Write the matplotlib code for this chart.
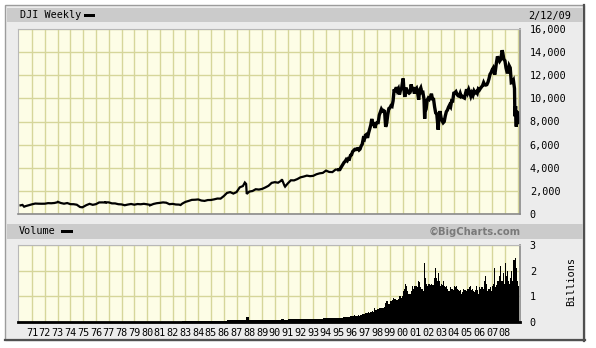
import numpy as np
import matplotlib
matplotlib.use("Agg")
import matplotlib.pyplot as plt
from matplotlib.patches import Rectangle
from matplotlib.lines import Line2D

# ---- data ----
# quarter-end closes 1970-1994 (Mar, Jun, Sep, Dec)
q_years = list(range(1970, 1995))
q_close = [785, 683, 761, 839,
           904, 891, 887, 890,
           940, 929, 953, 1020,
           951, 891, 947, 851,
           847, 802, 608, 616,
           768, 879, 794, 852,
           999, 1003, 990, 1005,
           919, 916, 847, 831,
           757, 819, 866, 805,
           862, 842, 879, 839,
           786, 868, 932, 964,
           1004, 977, 850, 875,
           823, 812, 896, 1047,
           1130, 1222, 1233, 1259,
           1165, 1133, 1207, 1212,
           1267, 1336, 1329, 1547,
           1819, 1893, 1768, 1896,
           2305, 2419, 2597, 1939,
           1989, 2142, 2113, 2169,
           2293, 2440, 2693, 2753,
           2707, 2881, 2453, 2634,
           2914, 2907, 3017, 3169,
           3236, 3319, 3272, 3301,
           3436, 3516, 3555, 3754,
           3636, 3625, 3843, 3834]

# month-end closes Jan 1995 - Jan 2009
m_close = [3844, 4011, 4158, 4321, 4465, 4556, 4709, 4611, 4789, 4756, 5075, 5117,
           5395, 5486, 5588, 5569, 5643, 5655, 5529, 5616, 5882, 6029, 6522, 6448,
           6813, 6878, 6584, 7009, 7331, 7673, 8223, 7622, 7945, 7442, 7823, 7908,
           7907, 8546, 8800, 9063, 8900, 8952, 8883, 7539, 7843, 8592, 9117, 9181,
           9359, 9307, 9786, 10789, 10560, 10971, 10655, 10829, 10337, 10730, 10878, 11497,
           10941, 10128, 10922, 10734, 10522, 10448, 10522, 11215, 10651, 10971, 10415, 10787,
           10887, 10495, 9879, 10735, 10912, 10502, 10523, 9950, 8848, 9075, 9852, 10022,
           9920, 10106, 10404, 9946, 9925, 9243, 8737, 8664, 7592, 8397, 8896, 8342,
           8054, 7891, 7992, 8480, 8850, 8985, 9234, 9416, 9275, 9801, 9782, 10454,
           10488, 10584, 10358, 10226, 10188, 10435, 10140, 10174, 10080, 10027, 10428, 10783,
           10490, 10766, 10504, 10193, 10467, 10275, 10641, 10482, 10569, 10440, 10806, 10718,
           10865, 10993, 11109, 11367, 11168, 11150, 11186, 11381, 11679, 12081, 12222, 12463,
           12622, 12269, 12354, 13063, 13628, 13409, 13212, 13358, 13896, 13930, 13372, 13265,
           12650, 12266, 12263, 12820, 12638, 11350, 11378, 11544, 10851, 9325, 8829, 8776,
           8001]

# extra weekly turning points
turn_dates = [1970.10, 1970.38, 1973.02, 1974.93, 1976.75, 1980.25, 1982.62,
              1987.65, 1987.80, 1990.55, 1990.80, 2000.04, 2001.72, 2002.78,
              2007.20, 2007.78, 2008.78, 2008.89, 2009.11]
turn_close = [750, 631, 1051, 578, 1014, 759, 777,
              2722, 1738, 2999, 2365, 11723, 8236, 7286,
              12050, 14164, 8451, 7552, 7933]

# weekly volume, billions: quarterly from Q4 1982 to 1994, monthly from 1995
vq_start = 1982.75
vol_q = [0.03,
         0.03, 0.035, 0.03, 0.03,
         0.03, 0.03, 0.035, 0.03,
         0.035, 0.04, 0.04, 0.045,
         0.055, 0.06, 0.06, 0.065,
         0.08, 0.08, 0.09, 0.2,
         0.07, 0.07, 0.065, 0.065,
         0.07, 0.075, 0.08, 0.085,
         0.08, 0.085, 0.1, 0.09,
         0.1, 0.1, 0.1, 0.11,
         0.11, 0.11, 0.11, 0.12,
         0.12, 0.13, 0.13, 0.14,
         0.15, 0.14, 0.14, 0.15]
vol_m = [0.15, 0.16, 0.17, 0.16, 0.18, 0.19, 0.19, 0.18, 0.2, 0.2, 0.21, 0.22,
         0.24, 0.25, 0.26, 0.25, 0.25, 0.24, 0.28, 0.24, 0.26, 0.28, 0.3, 0.3,
         0.33, 0.35, 0.36, 0.38, 0.36, 0.38, 0.4, 0.42, 0.4, 0.55, 0.45, 0.45,
         0.5, 0.52, 0.55, 0.55, 0.55, 0.56, 0.6, 0.75, 0.8, 0.82, 0.7, 0.72,
         0.8, 0.8, 0.85, 0.95, 0.9, 0.88, 0.85, 0.85, 0.9, 1.0, 0.95, 1.0,
         1.2, 1.3, 1.5, 1.4, 1.2, 1.1, 1.1, 1.1, 1.2, 1.4, 1.3, 1.4,
         1.4, 1.35, 1.6, 1.55, 1.35, 1.3, 1.3, 1.2, 2.3, 1.7, 1.5, 1.4,
         1.5, 1.5, 1.45, 1.5, 1.45, 1.7, 2.1, 1.7, 1.6, 1.9, 1.6, 1.4,
         1.5, 1.45, 1.6, 1.4, 1.35, 1.4, 1.3, 1.2, 1.35, 1.3, 1.3, 1.25,
         1.4, 1.35, 1.4, 1.3, 1.25, 1.2, 1.25, 1.1, 1.15, 1.3, 1.25, 1.2,
         1.3, 1.3, 1.35, 1.4, 1.25, 1.3, 1.2, 1.15, 1.25, 1.4, 1.25, 1.1,
         1.35, 1.3, 1.35, 1.3, 1.6, 1.8, 1.5, 1.2, 1.3, 1.3, 1.35, 1.2,
         1.4, 1.5, 2.1, 1.35, 1.45, 1.6, 1.8, 2.2, 1.6, 1.6, 1.9, 1.5,
         2.3, 1.8, 2.0, 1.6, 1.5, 1.7, 2.0, 1.6, 2.4, 2.5, 2.1, 1.6,
         1.4]
vol_extra_dates = [1987.79, 2009.083]
vol_extra = [0.3, 1.5]

year_labels = ["%02d" % (y % 100) for y in range(1971, 2009)]

# ---- assemble series ----
q_dates = [y + (k + 1) / 4 for y in q_years for k in range(4)]
m_dates = [1995 + (k + 1) / 12 for k in range(len(m_close))]
dates = np.array(q_dates + m_dates + turn_dates)
close = np.array(q_close + m_close + turn_close)
order = np.argsort(dates)
dates, close = dates[order], close[order]

vq_dates = vq_start + 0.25 * np.arange(len(vol_q))
vm_dates = 1995 + np.arange(len(vol_m)) / 12

# ---- figure ----
W, H = 596, 348
fig = plt.figure(figsize=(W / 100, H / 100), dpi=100)
fig.patch.set_facecolor("white")


def fx(x):
    return x / W


def fy(y):
    return 1 - y / H


def box(x0, y0, x1, y1, z=-10, **kw):
    fig.add_artist(Rectangle((fx(x0), fy(y1)), fx(x1) - fx(x0), fy(y0) - fy(y1),
                             transform=fig.transFigure, zorder=z, **kw))


# outer frame and header bands
box(5, 5, 584, 340, facecolor="#ececec", edgecolor="#9c9c9c", lw=1)
fig.add_artist(Line2D([fx(584), fx(584)], [fy(5), fy(341)], color="#505050", lw=1.6,
                      transform=fig.transFigure, zorder=-9))
fig.add_artist(Line2D([fx(5), fx(585)], [fy(340), fy(340)], color="#505050", lw=1.6,
                      transform=fig.transFigure, zorder=-9))
box(7, 8, 583, 22, z=-8, facecolor="#cbcbcb", edgecolor="none")
box(7, 224, 583, 239, z=-8, facecolor="#cbcbcb", edgecolor="none")

mono = "DejaVu Sans Mono"
fig.text(fx(20), fy(15.5), "DJI Weekly", family=mono, size=7.3, va="center")
box(84, 13.5, 95, 17, z=5, facecolor="black", edgecolor="none")
fig.text(fx(571), fy(15.5), "2/12/09", family=mono, size=7.3, va="center", ha="right")
fig.text(fx(19), fy(231.5), "Volume", family=mono, size=7.3, va="center")
box(61, 229.5, 73, 233, z=5, facecolor="black", edgecolor="none")
fig.text(fx(521), fy(231.5), "\u00a9BigCharts.com", family="DejaVu Sans", weight="bold",
         size=7.2, color="#7a7a7a", va="center", ha="right")
fig.text(fx(571), fy(281), "Billions", family=mono, size=7.3, rotation=90,
         va="center", ha="center")

plot_bg = "#fdfde6"
grid_c = "#d6d69a"
xmin, xmax = 1969.9, 2009.18
years = np.arange(1971, 2010)

# ---- price panel ----
ax = fig.add_axes([fx(18), fy(214), fx(520) - fx(18), fy(29) - fy(214)])
ax.set_facecolor(plot_bg)
early = dates <= 1995
ax.plot(dates[early], close[early], color="black", lw=1.6, solid_joinstyle="miter")
ax.plot(dates[dates >= 1995], close[dates >= 1995], color="black", lw=2.4,
        solid_joinstyle="miter")
ax.set_xlim(xmin, xmax)
ax.set_ylim(0, 16000)
ax.set_xticks(years)
ax.set_xticklabels([])
ax.set_yticks(np.arange(0, 16001, 2000))
ax.set_yticklabels(["{:,}".format(v) for v in range(0, 16001, 2000)])
ax.yaxis.tick_right()
ax.tick_params(length=0, labelsize=7.3, pad=7)
for t in ax.get_yticklabels():
    t.set_family(mono)
ax.grid(True, color=grid_c, lw=1)
ax.set_axisbelow(True)
for s in ["left", "top"]:
    ax.spines[s].set_color("#b8b8b8")
for s in ["right", "bottom"]:
    ax.spines[s].set_color("#8a8a8a")
    ax.spines[s].set_linewidth(1.2)

# ---- volume panel ----
av = fig.add_axes([fx(18), fy(322), fx(520) - fx(18), fy(245) - fy(322)])
av.set_facecolor(plot_bg)
av.bar(vq_dates, vol_q, width=0.25, align="edge", color="black", lw=0)
av.bar(vm_dates, vol_m, width=1 / 12, align="edge", color="black", lw=0)
av.bar(vol_extra_dates, vol_extra, width=0.04, align="edge", color="black", lw=0)
av.set_xlim(xmin, xmax)
av.set_ylim(0, 3)
av.set_xticks(years[:-1])
av.set_xticklabels(year_labels)
av.set_yticks([0, 1, 2, 3])
av.yaxis.tick_right()
av.tick_params(length=0, labelsize=7.3, pad=7)
av.tick_params(axis="x", pad=4)
for t in av.get_yticklabels() + av.get_xticklabels():
    t.set_family(mono)
av.grid(True, color=grid_c, lw=1)
av.set_axisbelow(True)
for s in ["left", "top"]:
    av.spines[s].set_color("#b8b8b8")
av.spines["right"].set_color("#8a8a8a")
av.spines["right"].set_linewidth(1.2)
av.spines["bottom"].set_color("black")
av.spines["bottom"].set_linewidth(2)

fig.savefig("out.png", dpi=100)
